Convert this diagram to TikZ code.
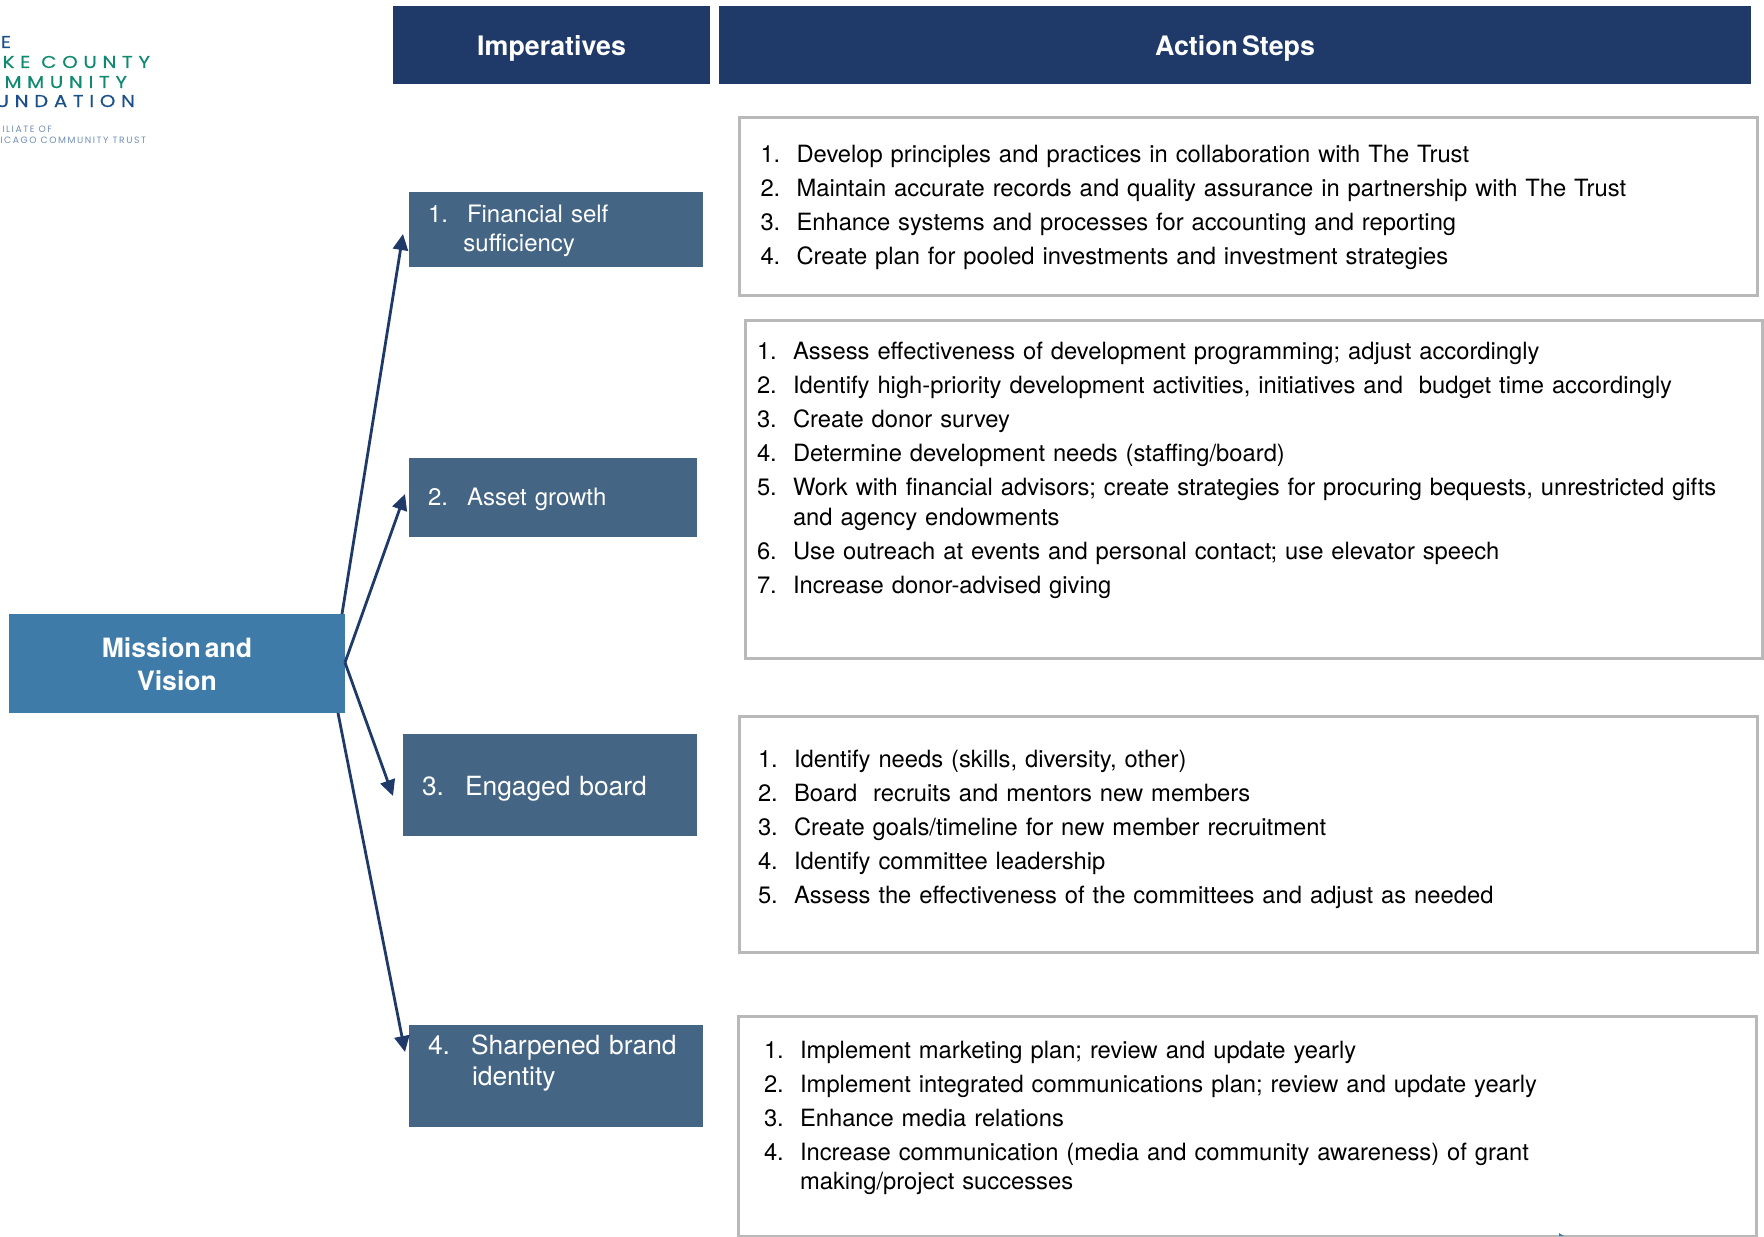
\documentclass[tikz,border=0pt]{standalone}
\usepackage{fontspec}
\setmainfont[WordSpace=0.55]{TeX Gyre Heros}
\newfontfamily\logofont[LetterSpace=33,FakeStretch=1.15,FakeBold=0.3]{Poppins}
\newfontfamily\logosmall[LetterSpace=17]{Poppins}
\usepackage{xcolor}
\usetikzlibrary{positioning,arrows.meta}
\definecolor{headblue}{HTML}{1F3A68}
\definecolor{impblue}{HTML}{446583}
\definecolor{missionblue}{HTML}{3F7BA9}
\definecolor{stepgray}{HTML}{B9B9B9}
\definecolor{logogreen}{HTML}{0E8A70}
\definecolor{logonavy}{HTML}{1A4F8A}
\definecolor{logogray}{HTML}{6F8DB5}
\newcommand{\stepitem}[2]{\hangindent=18pt\hangafter=1\noindent\hbox to 18pt{#1\hfil}#2\par}
\begin{document}
\begin{tikzpicture}[
        x=0.5pt,y=-0.5pt,
        every node/.style={outer sep=0pt,inner sep=0pt},
        headbox/.style={fill=headblue,text=white,font=\fontsize{13.4}{15}\selectfont\bfseries,anchor=north west,minimum height=39pt,text height=14pt,text depth=3pt},
        impbox/.style={fill=impblue,text=white,anchor=north west,align=left,inner xsep=9.5pt,text width=#1},
        stepbox/.style={draw=stepgray,line width=1.5pt,anchor=north west},
        steptext/.style={text=black,text width=495pt,align=left,font=\fontsize{11.88}{14.65}\selectfont\setlength{\parskip}{2.4pt}},
        logotext/.style={anchor=base east},
        to/.style={->,>={Triangle[length=8pt,width=7.5pt]},draw=headblue,line width=1.4pt},
        ]
      \useasboundingbox (0,0) rectangle (1764,1236);

      % logo
      \node [logotext,text=logonavy,font=\logofont\fontsize{8.6}{10}\selectfont] (logo-the) at (11,48) {E};
      \node [logotext,text=logogreen,font=\logofont\fontsize{8.6}{10}\selectfont] (logo-lake) at (150,68) {KE COUNTY};
      \node [logotext,text=logogreen,font=\logofont\fontsize{8.6}{10}\selectfont] (logo-community) at (127,88) {MMUNITY};
      \node [logotext,text=logonavy,font=\logofont\fontsize{8.6}{10}\selectfont] (logo-foundation) at (135,107) {UNDATION};
      \node [logotext,text=logogray,font=\logosmall\fontsize{4.6}{6}\selectfont] (logo-affiliate) at (52,133) {ILIATE OF};
      \node [logotext,text=logogray,font=\logosmall\fontsize{4.6}{6}\selectfont] (logo-trust) at (146,143) {ICAGO COMMUNITY TRUST};

      % headers
      \node [headbox,minimum width=158.5pt] (imperatives) at (393,6) {Imperatives};
      \node [headbox,minimum width=516pt,right=4.5pt of imperatives,anchor=west] (action-steps) {Action Steps};

      % imperatives
      \node [impbox=128pt,minimum height=37.5pt,font=\fontsize{12}{14.6}\selectfont,below=54pt of imperatives.south west,anchor=north west,xshift=8pt] (financial) {\rule{0pt}{10.5pt}1.\hspace{9.5pt}Financial self\\\hspace{17.7pt}sufficiency};
      \node [impbox=125pt,minimum height=39.5pt,text height=10.4pt,text depth=2.5pt,font=\fontsize{12}{14.6}\selectfont,below=95.5pt of financial.south west,anchor=north west] (asset) {2.\hspace{9.5pt}Asset growth};
      \node [impbox=128pt,minimum height=51pt,text height=13pt,text depth=2.8pt,font=\fontsize{13.2}{15.5}\selectfont,below=98.5pt of asset.south west,anchor=north west,xshift=-3pt] (engaged) {3.\hspace{10.5pt}Engaged board};
      \node [impbox=128pt,minimum height=51pt,font=\fontsize{13.2}{15.5}\selectfont,below=94.5pt of engaged.south west,anchor=north west,xshift=3pt] (sharpened) {4.\hspace{10.5pt}Sharpened brand\\\hspace{22pt}identity\rule[-15.7pt]{0pt}{15.7pt}};

      \node [fill=missionblue,text=white,font=\fontsize{13.3}{16.2}\selectfont\bfseries,align=center,anchor=north west,minimum width=168pt,minimum height=49.5pt] (mission) at (9,614) {\rule{0pt}{10.5pt}Mission and\\Vision};

      % action step boxes
      \node [stepbox,minimum width=509pt,minimum height=89pt,below=16.5pt of action-steps.south west,anchor=north west,xshift=10pt] (steps-a) {};
      \node [stepbox,minimum width=508.5pt,minimum height=169pt,below=12.5pt of steps-a.south west,anchor=north west,xshift=3pt] (steps-b) {};
      \node [stepbox,minimum width=509pt,minimum height=118pt,below=29pt of steps-b.south west,anchor=north west,xshift=-3pt] (steps-c) {};
      \node [stepbox,minimum width=509pt,minimum height=110pt,below=32pt of steps-c.south west,anchor=north west,xshift=-.5pt] (steps-d) {};

      \node [steptext,below right=13.9pt and 10.75pt of steps-a.north west] (list-a) {%
        \stepitem{1.}{Develop principles and practices in collaboration with The Trust}
        \stepitem{2.}{Maintain accurate records and quality assurance in partnership with The Trust}
        \stepitem{3.}{Enhance systems and processes for accounting and reporting}
        \stepitem{4.}{Create plan for pooled investments and investment strategies}};
      \node [steptext,below right=11pt and 6pt of steps-b.north west] (list-b) {%
        \stepitem{1.}{Assess effectiveness of development programming; adjust accordingly}
        \stepitem{2.}{Identify high-priority development activities, initiatives and\ \ budget time accordingly}
        \stepitem{3.}{Create donor survey}
        \stepitem{4.}{Determine development needs (staffing/board)}
        \stepitem{5.}{Work with financial advisors; create strategies for procuring bequests, unrestricted gifts\newline and agency endowments}
        \stepitem{6.}{Use outreach at events and personal contact; use elevator speech}
        \stepitem{7.}{Increase donor-advised giving}};
      \node [steptext,below right=17pt and 9.5pt of steps-c.north west] (list-c) {%
        \stepitem{1.}{Identify needs (skills, diversity, other)}
        \stepitem{2.}{Board\ \ recruits and mentors new members}
        \stepitem{3.}{Create goals/timeline for new member recruitment}
        \stepitem{4.}{Identify committee leadership}
        \stepitem{5.}{Assess the effectiveness of the committees and adjust as needed}};
      \node [steptext,below right=12.5pt and 13pt of steps-d.north west] (list-d) {%
        \stepitem{1.}{Implement marketing plan; review and update yearly}
        \stepitem{2.}{Implement integrated communications plan; review and update yearly}
        \stepitem{3.}{Enhance media relations}
        \stepitem{4.}{Increase communication (media and community awareness) of grant\newline making/project successes}};

      % arrow ends
      \coordinate (financial-in) at (403,234);
      \coordinate (asset-in) at (405,494);
      \coordinate (engaged-in) at (393,796);
      \coordinate (sharpened-in) at (405,1052);

      \draw[to] ([xshift=-1.5pt]mission.north east) -- (financial-in);
      \draw[to] ([yshift=.5pt]mission.east) -- (asset-in);
      \draw[to] ([yshift=.5pt]mission.east) -- (engaged-in);
      \draw[to] ([xshift=-3.5pt]mission.south east) -- (sharpened-in);

      % stray mark on the bottom edge
      \fill[missionblue] (1559,1233) -- (1564,1236) -- (1559,1236) -- cycle;
    \end{tikzpicture}
\end{document}
